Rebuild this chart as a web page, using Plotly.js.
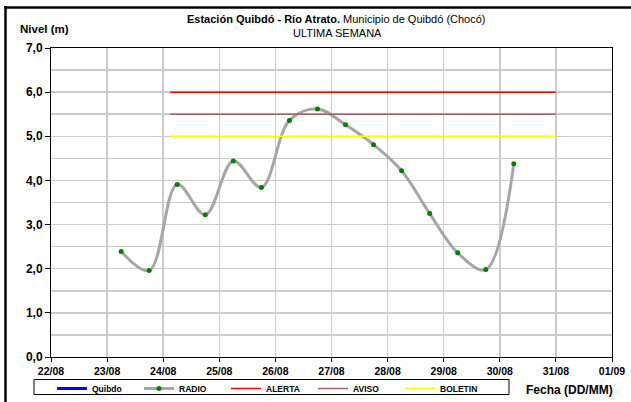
<!DOCTYPE html>
<html><head><meta charset="utf-8">
<script src="https://cdn.plot.ly/plotly-3.0.1.min.js"></script>
<style>html,body{margin:0;padding:0;background:#fff;}#chart{width:631px;height:402px;}</style>
</head><body><div id="chart"></div>
<script>
// ---- data ----
const radioDates = ['2023-08-23 06:00','2023-08-23 18:00','2023-08-24 06:00','2023-08-24 18:00',
  '2023-08-25 06:00','2023-08-25 18:00','2023-08-26 06:00','2023-08-26 18:00','2023-08-27 06:00',
  '2023-08-27 18:00','2023-08-28 06:00','2023-08-28 18:00','2023-08-29 06:00','2023-08-29 18:00',
  '2023-08-30 06:00'];
const radioLevels = [2.39,1.96,3.91,3.22,4.44,3.84,5.36,5.62,5.26,4.81,4.22,3.25,2.36,1.98,4.38];
const quibdoDates = ['2023-08-23 06:00'];
const quibdoLevels = [null];   // no readings in the window
const thresholdDates = ['2023-08-24 03:00','2023-08-31 00:00'];
const alertaLevels = [6.0,6.0];
const avisoLevels = [5.5,5.5];
const boletinLevels = [5.0,5.0];
const xRange = ['2023-08-22','2023-09-01'];
const yRange = [0,7];

// ---- layout helpers ----
const W=631,H=402,L=51,R=19,T=48,B=45;
const PW=W-L-R, PH=H-T-B;
const px2x = p => (p-L)/PW;
const px2y = p => (H-B-p)/PH;
const FONT = 'Liberation Sans, Arial, sans-serif';

const traces = [
  {x:quibdoDates,y:quibdoLevels,name:'Quibdo',mode:'lines',line:{color:'#0000ff',width:3}},
  {x:radioDates,y:radioLevels,name:'RADIO',mode:'lines+markers',
   line:{color:'#a6a6a6',width:3,shape:'spline',smoothing:1},
   marker:{color:'#008000',size:5}},
  {x:thresholdDates,y:alertaLevels,name:'ALERTA',mode:'lines',line:{color:'#ff0000',width:1.5}},
  {x:thresholdDates,y:avisoLevels,name:'AVISO',mode:'lines',line:{color:'#996666',width:1.5}},
  {x:thresholdDates,y:boletinLevels,name:'BOLETIN',mode:'lines',line:{color:'#ffff00',width:1.5}}
];

const layout = {
  width:W,height:H,
  margin:{l:L,r:R,t:T,b:B,pad:0,autoexpand:false},
  paper_bgcolor:'#ffffff',plot_bgcolor:'#ffffff',
  font:{family:FONT,color:'#000'},
  separators:',.',
  showlegend:true,
  xaxis:{type:'date',range:xRange,dtick:86400000,tick0:'2023-08-22',tickformat:'%d/%m',
    showgrid:true,gridcolor:'#cccccc',gridwidth:1.5,
    showline:true,linecolor:'#000',linewidth:1,mirror:true,
    ticks:'outside',ticklen:4,tickcolor:'#000',
    tickfont:{size:10.5,family:FONT,weight:'bold',color:'#000'},zeroline:false,fixedrange:true},
  yaxis:{range:yRange,dtick:1,tick0:0,tickformat:'.1f',
    showgrid:true,gridcolor:'#cccccc',gridwidth:1.5,
    minor:{dtick:0.5,showgrid:true,gridcolor:'#cccccc',gridwidth:1.5},
    showline:true,linecolor:'#000',linewidth:1,mirror:true,
    ticks:'outside',ticklen:5,tickcolor:'#000',
    tickfont:{size:12,family:FONT,weight:'bold',color:'#000'},zeroline:false,fixedrange:true},
  legend:{orientation:'h',x:px2x(52),y:px2y(374),xanchor:'left',yanchor:'top',
    bgcolor:'rgba(0,0,0,0)',borderwidth:0,
    font:{size:8.5,family:FONT,weight:'bold',color:'#000'},
    entrywidth:42,entrywidthmode:'pixels',itemwidth:30,tracegroupgap:0},
  shapes:[
    {type:'line',xref:'paper',yref:'paper',x0:px2x(5.5),x1:px2x(5.5),y0:px2y(6),y1:px2y(420),line:{color:'#000',width:2.5}},
    {type:'line',xref:'paper',yref:'paper',x0:px2x(4.5),x1:px2x(660),y0:px2y(7.5),y1:px2y(7.5),line:{color:'#000',width:2.5}},
    {type:'rect',xref:'paper',yref:'paper',x0:px2x(34),x1:px2x(509),y0:px2y(379.5),y1:px2y(394.5),line:{color:'#000',width:1},fillcolor:'rgba(0,0,0,0)'}
  ],
  annotations:[
    {text:'<b>Estación Quibdó - Río Atrato.</b> Municipio de Quibdó (Chocó)',xref:'paper',yref:'paper',x:px2x(336),y:px2y(19),xanchor:'center',yanchor:'middle',showarrow:false,font:{size:11,family:FONT,color:'#000'}},
    {text:'ULTIMA SEMANA',xref:'paper',yref:'paper',x:px2x(337),y:px2y(33),xanchor:'center',yanchor:'middle',showarrow:false,font:{size:11,family:FONT,color:'#000'}},
    {text:'<b>Nivel (m)</b>',xref:'paper',yref:'paper',x:px2x(18),y:px2y(29),xanchor:'left',yanchor:'middle',showarrow:false,font:{size:11.5,family:FONT,color:'#000'}},
    {text:'<b>Fecha (DD/MM)</b>',xref:'paper',yref:'paper',x:px2x(524),y:px2y(390),xanchor:'left',yanchor:'middle',showarrow:false,font:{size:12,family:FONT,color:'#000'}}
  ]
};

Plotly.newPlot('chart',traces,layout,{displayModeBar:false,staticPlot:true});
</script>
</body></html>
